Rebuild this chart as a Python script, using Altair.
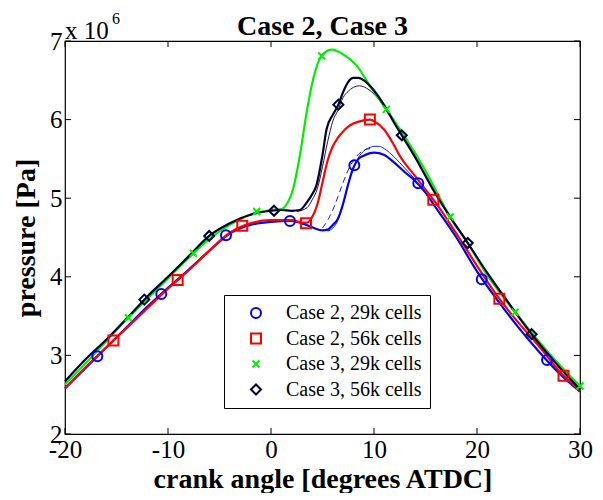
import altair as alt
import pandas as pd

# ---------------- data (pressure in units of 1e6 Pa) ----------------
series_names = ["Case 2, 29k cells", "Case 2, 56k cells", "Case 3, 29k cells", "Case 3, 56k cells"]
series_colors = ["#0000ff", "#ff0000", "#00ee00", "#000033"]
series_shapes = ["circle", "square", "M-0.7,-0.7L0.7,0.7M0.7,-0.7L-0.7,0.7", "diamond"]

c2_29k_x = [-20, -18, -16, -14, -12, -10, -8, -6, -4, -2, 0, 2, 3, 4, 5, 5.5, 6, 6.5, 7, 7.5, 8, 8.5, 9, 10, 11, 12, 13, 14, 15, 16, 18, 20, 22, 24, 26, 28, 30]
c2_29k_y = [2.58, 2.84, 3.10, 3.36, 3.62, 3.86, 4.09, 4.33, 4.55, 4.66, 4.70, 4.71, 4.68, 4.63, 4.59, 4.60, 4.66, 4.74, 4.93, 5.18, 5.39, 5.50, 5.54, 5.58, 5.55, 5.45, 5.33, 5.22, 5.07, 4.88, 4.50, 4.07, 3.70, 3.36, 3.05, 2.77, 2.54]

c2_56k_x = [-20, -18, -16, -14, -12, -10, -8, -6, -4, -2, 0, 2, 3, 3.5, 4, 4.5, 5, 5.5, 6, 6.5, 7, 7.5, 8, 9, 9.6, 10, 11, 12, 12.5, 14, 15, 16, 18, 20, 22, 24, 26, 28, 30]
c2_56k_y = [2.58, 2.85, 3.10, 3.35, 3.60, 3.85, 4.08, 4.33, 4.56, 4.68, 4.72, 4.72, 4.69, 4.69, 4.76, 4.92, 5.20, 5.48, 5.66, 5.77, 5.85, 5.91, 5.95, 5.99, 6.00, 5.98, 5.87, 5.66, 5.54, 5.28, 5.11, 4.94, 4.55, 4.14, 3.75, 3.42, 3.12, 2.80, 2.55]

c3_29k_x = [-20, -18, -16, -14, -12, -10, -8, -6, -4, -2, 0, 1, 1.5, 2.15, 2.8, 3.46, 4.1, 4.92, 5.9, 7, 8.3, 9.6, 11.2, 13, 15, 17.4, 19, 21, 23.7, 26, 28, 30]
c3_29k_y = [2.63, 2.90, 3.18, 3.46, 3.72, 3.98, 4.24, 4.48, 4.66, 4.79, 4.85, 4.86, 4.92, 5.12, 5.54, 6.09, 6.52, 6.81, 6.89, 6.83, 6.69, 6.43, 6.13, 5.78, 5.35, 4.76, 4.45, 4.02, 3.55, 3.18, 2.88, 2.61]

c3_56k_x = [-20, -18, -16, -14, -12, -10, -8, -6, -4, -2, 0, 1, 2, 2.8, 3.5, 4, 4.4, 5, 5.4, 6, 6.54, 7, 7.5, 8, 8.5, 9, 10, 11, 12, 12.7, 14, 16, 17.4, 19.1, 21, 23, 25.3, 28, 30]
c3_56k_y = [2.67, 2.95, 3.20, 3.47, 3.75, 4.00, 4.26, 4.52, 4.68, 4.79, 4.84, 4.85, 4.84, 4.85, 4.95, 5.05, 5.16, 5.55, 5.88, 6.06, 6.19, 6.35, 6.48, 6.53, 6.53, 6.50, 6.37, 6.18, 5.95, 5.80, 5.52, 5.05, 4.76, 4.43, 4.05, 3.68, 3.27, 2.85, 2.57]

# thin companion curves near the peaks
thin_black_x = [2.5, 3.5, 4, 4.5, 5, 5.5, 6, 6.5, 7, 7.5, 8, 8.6, 9.5, 10.5, 11.5]
thin_black_y = [4.83, 4.88, 4.98, 5.12, 5.40, 5.72, 5.98, 6.12, 6.28, 6.36, 6.41, 6.43, 6.38, 6.25, 6.05]
thin_blue_x = [5.5, 6, 6.5, 7, 7.5, 8, 8.5, 9, 9.5, 10, 10.5, 11, 12, 13, 14]
thin_blue_y = [4.58, 4.62, 4.72, 4.92, 5.18, 5.38, 5.52, 5.60, 5.64, 5.66, 5.66, 5.63, 5.52, 5.38, 5.24]
thin_blue_dash_x = [5, 5.5, 6, 6.5, 7, 7.5, 8, 8.5, 9, 9.5, 10]
thin_blue_dash_y = [4.62, 4.72, 4.85, 5.02, 5.20, 5.36, 5.48, 5.56, 5.61, 5.63, 5.64]

# markers
m_c2_29k_x = [-16.86, -10.65, -4.37, 1.84, 8.09, 14.3, 20.46, 26.8]
m_c2_29k_y = [2.99, 3.78, 4.53, 4.71, 5.42, 5.19, 3.97, 2.94]
m_c2_56k_x = [-15.3, -9.06, -2.79, 3.4, 9.6, 15.76, 22.17, 28.4]
m_c2_56k_y = [3.19, 3.96, 4.65, 4.68, 6.00, 4.98, 3.72, 2.74]
m_c3_29k_x = [-13.85, -7.54, -1.39, 4.92, 11.2, 17.4, 23.7, 30.0]
m_c3_29k_y = [3.48, 4.30, 4.83, 6.81, 6.13, 4.76, 3.55, 2.61]
m_c3_56k_x = [-12.3, -6.0, 0.29, 6.54, 12.7, 19.1, 25.3]
m_c3_56k_y = [3.71, 4.52, 4.84, 6.19, 5.80, 4.43, 3.27]

x_ticks = [-20, -10, 0, 10, 20, 30]
y_ticks = [2, 3, 4, 5, 6, 7]

title_text = "Case 2, Case 3"
x_title = "crank angle [degrees ATDC]"
y_title = "pressure [Pa]"
exp_base = "x 10"
exp_power = "6"

# ---------------- frames ----------------
curves = [(c2_29k_x, c2_29k_y), (c2_56k_x, c2_56k_y), (c3_29k_x, c3_29k_y), (c3_56k_x, c3_56k_y)]
marks = [(m_c2_29k_x, m_c2_29k_y), (m_c2_56k_x, m_c2_56k_y), (m_c3_29k_x, m_c3_29k_y), (m_c3_56k_x, m_c3_56k_y)]

rows = []
for i, (xs, ys) in enumerate(curves):
    for j, (a, b) in enumerate(zip(xs, ys)):
        rows.append({"series": series_names[i], "col": series_colors[i], "x": a, "y": b, "k": j})
df_lines = pd.DataFrame(rows)

rows = []
for i, (xs, ys) in enumerate(marks):
    for a, b in zip(xs, ys):
        rows.append({"series": series_names[i], "x": a, "y": b})
df_marks = pd.DataFrame(rows)

df_tb = pd.DataFrame({"x": thin_black_x, "y": thin_black_y})
df_tbl = pd.DataFrame({"x": thin_blue_x, "y": thin_blue_y})
df_tbd = pd.DataFrame({"x": thin_blue_dash_x, "y": thin_blue_dash_y})
df_xt = pd.DataFrame({"x": x_ticks})
df_yt = pd.DataFrame({"y": y_ticks})

W, H = 515, 393
FONT = "Liberation Serif"

x_scale = alt.Scale(domain=[-20, 30], nice=False, zero=False)
y_scale = alt.Scale(domain=[2, 7], nice=False, zero=False)

x_enc = alt.X("x:Q", scale=x_scale, title=x_title,
              axis=alt.Axis(values=x_ticks, ticks=False, tickSize=0, domain=False, grid=False,
                            labelFont=FONT, labelFontSize=25, labelColor="black", labelPadding=3,
                            labelFlush=False, labelOverlap=False, labelExpr="'' + datum.value",
                            titleFont=FONT, titleFontSize=28, titleFontWeight="bold", titleColor="black",
                            titleBaseline="alphabetic", titleY=53))
y_enc = alt.Y("y:Q", scale=y_scale, title=y_title,
              axis=alt.Axis(values=y_ticks, ticks=False, tickSize=0, domain=False, grid=False,
                            labelFont=FONT, labelFontSize=25, labelColor="black", labelPadding=3,
                            labelFlush=False, labelOverlap=False, labelExpr="'' + datum.value",
                            titleFont=FONT, titleFontSize=28, titleFontWeight="bold", titleColor="black",
                            titleBaseline="alphabetic", titleX=-31))

legend = alt.Legend(title=None, orient="none", legendX=159, legendY=254, padding=8,
                    symbolOffset=14, labelOffset=20, rowPadding=5.5, strokeColor="black",
                    fillColor="white", labelFont=FONT, labelFontSize=20, labelColor="black",
                    symbolSize=100, symbolStrokeWidth=2, labelLimit=400, cornerRadius=0)

base_lines = alt.Chart(df_lines).mark_line(strokeWidth=2.2, interpolate="monotone").encode(
    x=x_enc, y=y_enc,
    color=alt.Color("col:N", scale=None),
    detail="series:N",
    order="k:Q",
)

thin_black = alt.Chart(df_tb).mark_line(strokeWidth=0.9, color="#000033", interpolate="monotone").encode(x=x_enc, y=y_enc)
thin_blue = alt.Chart(df_tbl).mark_line(strokeWidth=0.9, color="#0000ff", interpolate="monotone").encode(x=x_enc, y=y_enc)
thin_blue_d = alt.Chart(df_tbd).mark_line(strokeWidth=0.9, color="#0000ff", strokeDash=[6, 4], interpolate="monotone").encode(x=x_enc, y=y_enc)

points = alt.Chart(df_marks).mark_point(filled=False, size=100, strokeWidth=2, opacity=1).encode(
    x=x_enc, y=y_enc,
    color=alt.Color("series:N", scale=alt.Scale(domain=series_names, range=series_colors), legend=legend),
    shape=alt.Shape("series:N", scale=alt.Scale(domain=series_names, range=series_shapes), legend=legend),
)

tick_b = alt.Chart(df_xt).mark_rule(color="black", strokeWidth=1).encode(x=x_enc, y=alt.value(H), y2=alt.value(H - 6))
tick_t = alt.Chart(df_xt).mark_rule(color="black", strokeWidth=1).encode(x=x_enc, y=alt.value(0), y2=alt.value(6))
tick_l = alt.Chart(df_yt).mark_rule(color="black", strokeWidth=1).encode(y=y_enc, x=alt.value(0), x2=alt.value(6))
tick_r = alt.Chart(df_yt).mark_rule(color="black", strokeWidth=1).encode(y=y_enc, x=alt.value(W), x2=alt.value(W - 6))

exp1 = alt.Chart(pd.DataFrame({"t": [exp_base]})).mark_text(
    font=FONT, fontSize=25, align="left", baseline="alphabetic", color="black"
).encode(text="t:N", x=alt.value(0), y=alt.value(-2))
exp2 = alt.Chart(pd.DataFrame({"t": [exp_power]})).mark_text(
    font=FONT, fontSize=16, align="left", baseline="alphabetic", color="black"
).encode(text="t:N", x=alt.value(47), y=alt.value(-17))
title_mark = alt.Chart(pd.DataFrame({"t": [title_text]})).mark_text(
    font=FONT, fontSize=28, fontWeight="bold", align="center", baseline="alphabetic", color="black"
).encode(text="t:N", x=alt.value(W / 2), y=alt.value(-6))

chart = alt.layer(
    thin_blue_d, thin_blue, thin_black, base_lines, points,
    tick_b, tick_t, tick_l, tick_r, exp1, exp2, title_mark
).properties(
    width=W, height=H,
    autosize=alt.AutoSizeParams(type="none"),
    padding={"left": 57, "top": 33, "right": 13, "bottom": 59},
    background="white",
).configure(font=FONT).configure_view(stroke="black", strokeWidth=1.2)

chart.save("out.html", embed_options={"renderer": "svg", "actions": False})
